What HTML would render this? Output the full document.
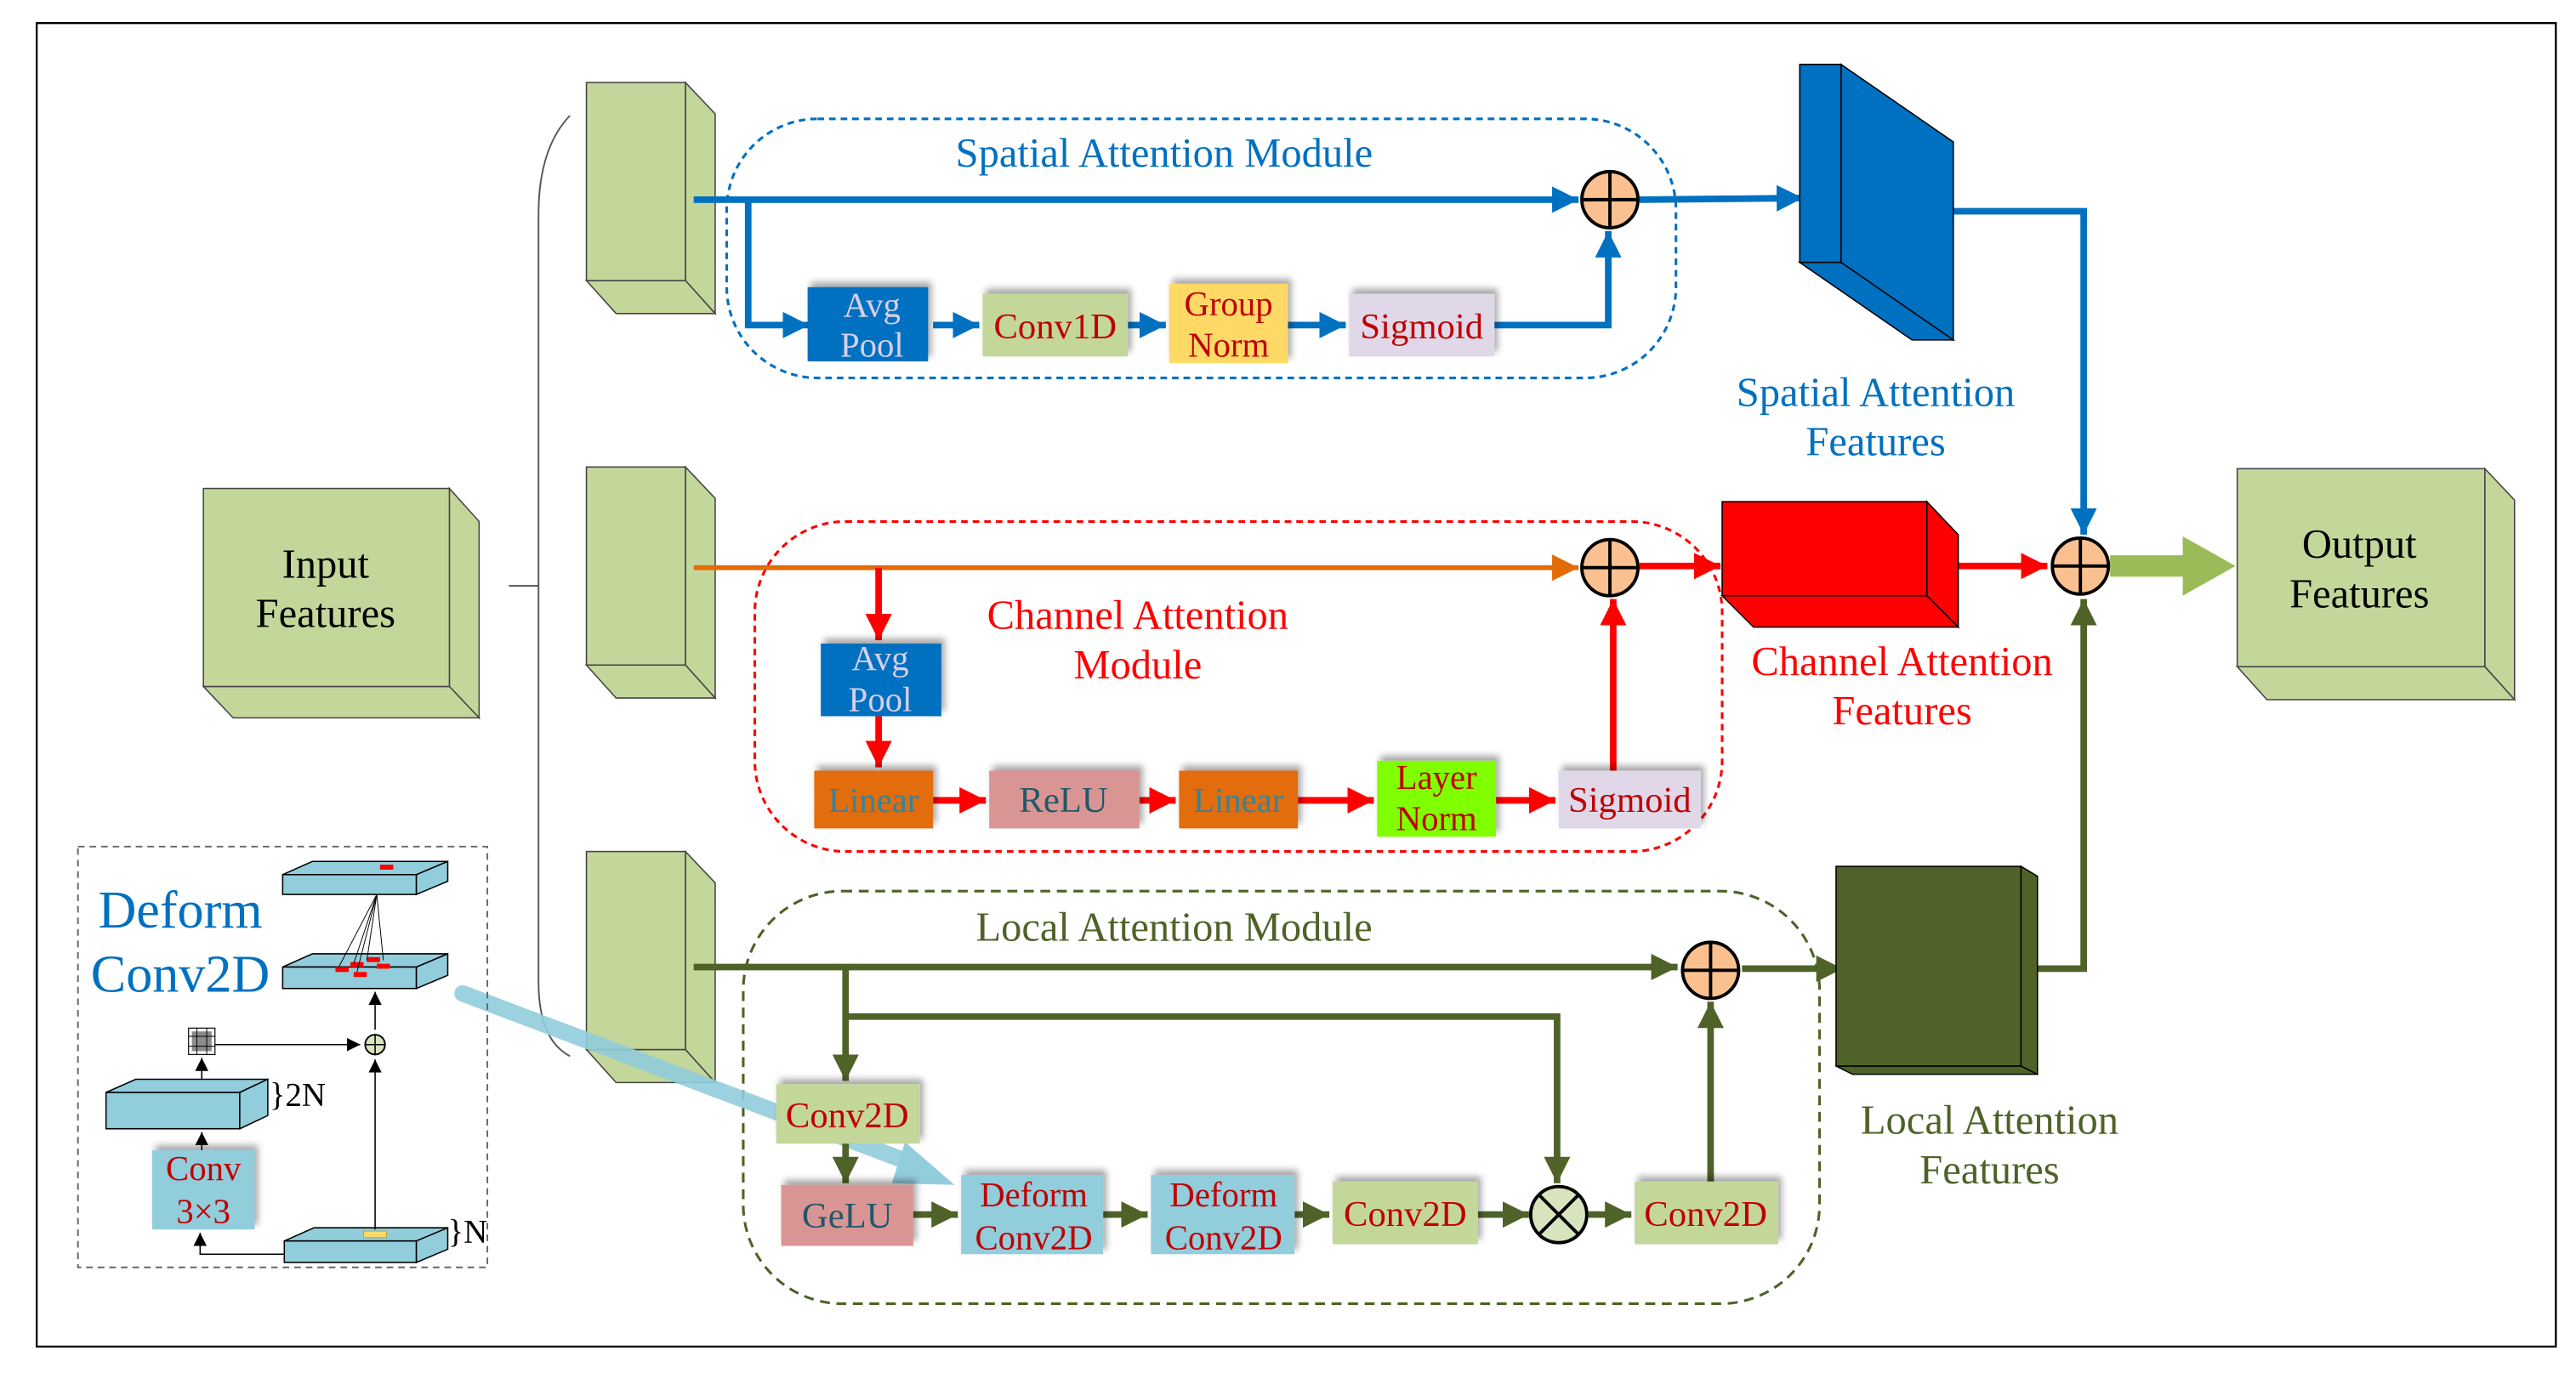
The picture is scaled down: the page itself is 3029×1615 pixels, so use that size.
<!DOCTYPE html>
<html><head><meta charset="utf-8"><style>
html,body{margin:0;padding:0;background:#fff;}
svg{display:block;}
text{font-family:"Liberation Serif",serif;}
</style></head><body>
<svg width="3029" height="1615" viewBox="0 0 1560 832" xmlns="http://www.w3.org/2000/svg">
<defs>
<marker id="ab" markerUnits="userSpaceOnUse" markerWidth="20" markerHeight="20" refX="16" refY="8" orient="auto"><path d="M0,0 L16,8 L0,16 Z" fill="#0070c0"/></marker>
<marker id="ar" markerUnits="userSpaceOnUse" markerWidth="20" markerHeight="20" refX="16" refY="8" orient="auto"><path d="M0,0 L16,8 L0,16 Z" fill="#ff0000"/></marker>
<marker id="ao" markerUnits="userSpaceOnUse" markerWidth="20" markerHeight="20" refX="16" refY="8" orient="auto"><path d="M0,0 L16,8 L0,16 Z" fill="#e36c09"/></marker>
<marker id="ag" markerUnits="userSpaceOnUse" markerWidth="20" markerHeight="20" refX="16" refY="8" orient="auto"><path d="M0,0 L16,8 L0,16 Z" fill="#4f6228"/></marker>
<marker id="ak" markerUnits="userSpaceOnUse" markerWidth="10" markerHeight="10" refX="8" refY="4" orient="auto"><path d="M0,0 L8,4 L0,8 Z" fill="#000"/></marker>
<filter id="sh" x="-20%" y="-20%" width="140%" height="140%"><feDropShadow dx="2" dy="-3" stdDeviation="2" flood-color="#000" flood-opacity="0.35"/></filter>
</defs>

<rect x="22" y="14" width="1526" height="802" fill="none" stroke="#000" stroke-width="1.2"/>

<!-- input features -->
<g stroke="#444" stroke-width="0.8" fill="#c4d79b">
<polygon points="272,296 290,316 290,435 272,416"/>
<polygon points="123,416 272,416 290,435 141,435"/>
<rect x="123" y="296" width="149" height="120"/>
</g>
<text x="197" y="350" font-size="25" text-anchor="middle">Input</text>
<text x="197" y="380" font-size="25" text-anchor="middle">Features</text>

<!-- brace -->
<path d="M345,70 Q326,90 326,130 L326,595 Q326,630 345,640" fill="none" stroke="#555" stroke-width="1"/>
<line x1="308" y1="355" x2="326" y2="355" stroke="#555" stroke-width="1"/>

<!-- green thin boxes -->
<g stroke="#444" stroke-width="0.8" fill="#c4d79b">
<polygon points="415,50 433,69 433,190 415,170"/><polygon points="355,170 415,170 433,190 373,190"/><rect x="355" y="50" width="60" height="120"/>
<polygon points="415,283 433,302 433,423 415,403"/><polygon points="355,403 415,403 433,423 373,423"/><rect x="355" y="283" width="60" height="120"/>
<polygon points="415,516 433,535 433,656 415,636"/><polygon points="355,636 415,636 433,656 373,656"/><rect x="355" y="516" width="60" height="120"/>
</g>

<!-- Spatial module -->
<rect x="440" y="72" width="575" height="157" rx="55" fill="none" stroke="#0070c0" stroke-width="1.6" stroke-dasharray="4,3"/>
<text x="705" y="101" font-size="25" fill="#0070c0" text-anchor="middle">Spatial Attention Module</text>
<g stroke="#0070c0" stroke-width="4" fill="none">
<line x1="420" y1="121" x2="956" y2="121" marker-end="url(#ab)"/>
<polyline points="453,121 453,197 490,197" marker-end="url(#ab)"/>
<line x1="565" y1="197" x2="593" y2="197" marker-end="url(#ab)"/>
<line x1="683" y1="197" x2="706" y2="197" marker-end="url(#ab)"/>
<line x1="780" y1="197" x2="815" y2="197" marker-end="url(#ab)"/>
<polyline points="905,197 974,197 974,140" marker-end="url(#ab)"/>
<line x1="993" y1="121" x2="1092" y2="120" marker-end="url(#ab)"/>
<polyline points="1183,128 1262,128 1262,324" marker-end="url(#ab)"/>
</g>
<g filter="url(#sh)">
<rect x="489" y="174" width="73" height="45" fill="#0070c0"/>
<rect x="595" y="178" width="88" height="38" fill="#c4d79b"/>
<rect x="708" y="172" width="72" height="48" fill="#ffd966"/>
<rect x="817" y="178" width="88" height="38" fill="#e0d8e8"/>
</g>
<text x="528" y="192" font-size="21" fill="#d8d0e8" text-anchor="middle">Avg</text>
<text x="528" y="216" font-size="21" fill="#d8d0e8" text-anchor="middle">Pool</text>
<text x="639" y="205" font-size="22" fill="#c00000" text-anchor="middle">Conv1D</text>
<text x="744" y="191" font-size="21" fill="#c00000" text-anchor="middle">Group</text>
<text x="744" y="216" font-size="21" fill="#c00000" text-anchor="middle">Norm</text>
<text x="861" y="205" font-size="22" fill="#c00000" text-anchor="middle">Sigmoid</text>
<circle cx="975" cy="121" r="17" fill="#fac090" stroke="#000" stroke-width="2"/>
<path d="M958,121 H992 M975,104 V138" stroke="#000" stroke-width="2"/>

<!-- blue block -->
<g stroke="#000" stroke-width="0.8" fill="#0070c0">
<polygon points="1115,39 1183,86 1183,206 1115,159"/>
<polygon points="1090,159 1115,159 1183,206 1158,206"/>
<rect x="1090" y="39" width="25" height="120"/>
</g>
<text x="1136" y="246" font-size="25" fill="#0070c0" text-anchor="middle">Spatial Attention</text>
<text x="1136" y="276" font-size="25" fill="#0070c0" text-anchor="middle">Features</text>

<!-- Channel module -->
<rect x="457" y="316" width="586" height="200" rx="55" fill="none" stroke="#ff0000" stroke-width="1.6" stroke-dasharray="4,3"/>
<text x="689" y="381" font-size="25" fill="#ff0000" text-anchor="middle">Channel Attention</text>
<text x="689" y="411" font-size="25" fill="#ff0000" text-anchor="middle">Module</text>
<line x1="420" y1="344" x2="956" y2="344" stroke="#e36c09" stroke-width="3" marker-end="url(#ao)"/>
<g stroke="#ff0000" stroke-width="4" fill="none">
<line x1="532" y1="344" x2="532" y2="388" marker-end="url(#ar)"/>
<line x1="532" y1="434" x2="532" y2="465" marker-end="url(#ar)"/>
<line x1="565" y1="485" x2="597" y2="485" marker-end="url(#ar)"/>
<line x1="690" y1="485" x2="712" y2="485" marker-end="url(#ar)"/>
<line x1="786" y1="485" x2="832" y2="485" marker-end="url(#ar)"/>
<line x1="906" y1="485" x2="942" y2="485" marker-end="url(#ar)"/>
<line x1="977" y1="467" x2="977" y2="363" marker-end="url(#ar)"/>
<line x1="993" y1="343" x2="1042" y2="343" marker-end="url(#ar)"/>
<line x1="1186" y1="343" x2="1240" y2="343" marker-end="url(#ar)"/>
</g>
<g filter="url(#sh)">
<rect x="497" y="390" width="73" height="44" fill="#0070c0"/>
<rect x="493" y="467" width="72" height="35" fill="#e36c09"/>
<rect x="599" y="467" width="91" height="35" fill="#d99594"/>
<rect x="714" y="467" width="72" height="35" fill="#e36c09"/>
<rect x="834" y="461" width="72" height="46" fill="#7fff00"/>
<rect x="944" y="467" width="86" height="35" fill="#e0d8e8"/>
</g>
<text x="533" y="406" font-size="21" fill="#d8d0e8" text-anchor="middle">Avg</text>
<text x="533" y="431" font-size="21" fill="#d8d0e8" text-anchor="middle">Pool</text>
<text x="529" y="492" font-size="21" fill="#31859c" text-anchor="middle">Linear</text>
<text x="644" y="492" font-size="22" fill="#215868" text-anchor="middle">ReLU</text>
<text x="750" y="492" font-size="21" fill="#31859c" text-anchor="middle">Linear</text>
<text x="870" y="478" font-size="21" fill="#c00000" text-anchor="middle">Layer</text>
<text x="870" y="503" font-size="21" fill="#c00000" text-anchor="middle">Norm</text>
<text x="987" y="492" font-size="22" fill="#c00000" text-anchor="middle">Sigmoid</text>
<circle cx="975" cy="344" r="17" fill="#fac090" stroke="#000" stroke-width="2"/>
<path d="M958,344 H992 M975,327 V361" stroke="#000" stroke-width="2"/>

<!-- red block -->
<g stroke="#000" stroke-width="0.8" fill="#ff0000">
<polygon points="1167,304 1186,324 1186,380 1167,361"/>
<polygon points="1043,361 1167,361 1186,380 1062,380"/>
<rect x="1043" y="304" width="124" height="57"/>
</g>
<text x="1152" y="409" font-size="25" fill="#ff0000" text-anchor="middle">Channel Attention</text>
<text x="1152" y="439" font-size="25" fill="#ff0000" text-anchor="middle">Features</text>

<!-- final sum -->
<line x1="1278" y1="343" x2="1325" y2="343" stroke="#9bbb59" stroke-width="13"/>
<polygon points="1322,325 1354,343 1322,361" fill="#9bbb59"/>
<polyline points="1234,587 1262,587 1262,363" fill="none" stroke="#4f6228" stroke-width="4" marker-end="url(#ag)"/>
<circle cx="1260" cy="343" r="17" fill="#fac090" stroke="#000" stroke-width="2"/>
<path d="M1243,343 H1277 M1260,326 V360" stroke="#000" stroke-width="2"/>

<!-- output -->
<g stroke="#444" stroke-width="0.8" fill="#c4d79b">
<polygon points="1505,284 1523,303 1523,424 1505,404"/>
<polygon points="1355,404 1505,404 1523,424 1373,424"/>
<rect x="1355" y="284" width="150" height="120"/>
</g>
<text x="1429" y="338" font-size="25" text-anchor="middle">Output</text>
<text x="1429" y="368" font-size="25" text-anchor="middle">Features</text>

<!-- Local module -->
<rect x="450" y="540" width="652" height="250" rx="60" fill="none" stroke="#4f6228" stroke-width="1.6" stroke-dasharray="6,4"/>
<text x="711" y="570" font-size="25" fill="#4f6228" text-anchor="middle">Local Attention Module</text>

<!-- light blue arrow -->
<line x1="280" y1="602" x2="555" y2="706" stroke="#92cddc" stroke-width="10" stroke-linecap="round" opacity="0.9"/>
<polygon points="548,692 578,718 540,717" fill="#92cddc"/>

<g stroke="#4f6228" stroke-width="4" fill="none">
<line x1="420" y1="586" x2="1016" y2="586" marker-end="url(#ag)"/>
<line x1="512" y1="586" x2="512" y2="655" marker-end="url(#ag)"/>
<polyline points="512,616 943,616 943,717" marker-end="url(#ag)"/>
<line x1="512" y1="693" x2="512" y2="717" marker-end="url(#ag)"/>
<line x1="553" y1="736" x2="580" y2="736" marker-end="url(#ag)"/>
<line x1="668" y1="736" x2="695" y2="736" marker-end="url(#ag)"/>
<line x1="784" y1="736" x2="805" y2="736" marker-end="url(#ag)"/>
<line x1="895" y1="736" x2="926" y2="736" marker-end="url(#ag)"/>
<line x1="962" y1="736" x2="988" y2="736" marker-end="url(#ag)"/>
<line x1="1036" y1="716" x2="1036" y2="607" marker-end="url(#ag)"/>
<line x1="1055" y1="587" x2="1116" y2="587" marker-end="url(#ag)"/>
</g>
<g filter="url(#sh)">
<rect x="470" y="657" width="87" height="36" fill="#c4d79b"/>
<rect x="473" y="718" width="80" height="37" fill="#d99594"/>
<rect x="582" y="712" width="86" height="48" fill="#92cddc"/>
<rect x="697" y="712" width="87" height="48" fill="#92cddc"/>
<rect x="807" y="716" width="88" height="38" fill="#c4d79b"/>
<rect x="990" y="716" width="87" height="38" fill="#c4d79b"/>
</g>
<text x="513" y="683" font-size="22" fill="#c00000" text-anchor="middle">Conv2D</text>
<text x="513" y="744" font-size="22" fill="#215868" text-anchor="middle">GeLU</text>
<text x="626" y="731" font-size="21" fill="#c00000" text-anchor="middle">Deform</text>
<text x="626" y="757" font-size="21" fill="#c00000" text-anchor="middle">Conv2D</text>
<text x="741" y="731" font-size="21" fill="#c00000" text-anchor="middle">Deform</text>
<text x="741" y="757" font-size="21" fill="#c00000" text-anchor="middle">Conv2D</text>
<text x="851" y="743" font-size="22" fill="#c00000" text-anchor="middle">Conv2D</text>
<text x="1033" y="743" font-size="22" fill="#c00000" text-anchor="middle">Conv2D</text>
<circle cx="944" cy="736" r="17" fill="#d7e4bd" stroke="#000" stroke-width="2"/>
<path d="M932,724 L956,748 M956,724 L932,748" stroke="#000" stroke-width="2"/>
<circle cx="1036" cy="588" r="17" fill="#fac090" stroke="#000" stroke-width="2"/>
<path d="M1019,588 H1053 M1036,571 V605" stroke="#000" stroke-width="2"/>

<!-- dark green block -->
<g stroke="#000" stroke-width="0.8" fill="#4f6228">
<polygon points="1224,525 1234,531 1234,651 1224,646"/>
<polygon points="1112,646 1224,646 1234,651 1122,651"/>
<rect x="1112" y="525" width="112" height="121"/>
</g>
<text x="1205" y="687" font-size="25" fill="#4f6228" text-anchor="middle">Local Attention</text>
<text x="1205" y="717" font-size="25" fill="#4f6228" text-anchor="middle">Features</text>

<!-- inset -->
<rect x="47" y="513" width="248" height="255" fill="none" stroke="#666" stroke-width="1" stroke-dasharray="4,3"/>
<text x="109" y="562" font-size="32" fill="#0070c0" text-anchor="middle">Deform</text>
<text x="109" y="601" font-size="32" fill="#0070c0" text-anchor="middle">Conv2D</text>
<g stroke="#000" stroke-width="0.8" fill="#92cddc">
<polygon points="171,530 189,522 271,522 252,530"/><rect x="171" y="530" width="81" height="12"/><polygon points="252,530 271,522 271,534 252,542"/>
<polygon points="171,586 189,578 271,578 252,586"/><rect x="171" y="586" width="81" height="13"/><polygon points="252,586 271,578 271,591 252,599"/>
<polygon points="64,662 82,654 162,654 145,662"/><rect x="64" y="662" width="81" height="22"/><polygon points="145,662 162,654 162,676 145,684"/>
<polygon points="172,752 190,744 271,744 252,752"/><rect x="172" y="752" width="80" height="13"/><polygon points="252,752 271,744 271,757 252,765"/>
</g>
<rect x="230" y="524" width="8" height="3" fill="#ff0000"/>
<g fill="#ff0000"><rect x="203" y="586" width="8" height="3"/><rect x="212" y="583" width="8" height="3"/><rect x="222" y="580" width="8" height="3"/><rect x="228" y="584" width="8" height="3"/><rect x="214" y="589" width="8" height="3"/></g>
<g stroke="#000" stroke-width="0.5"><line x1="228" y1="542" x2="205" y2="586"/><line x1="228" y1="542" x2="214" y2="584"/><line x1="228" y1="542" x2="222" y2="582"/><line x1="228" y1="542" x2="232" y2="582"/><line x1="228" y1="542" x2="216" y2="589"/></g>
<rect x="220" y="746" width="14" height="4" fill="#ffd966" stroke="#b09030" stroke-width="0.4"/>
<rect x="92" y="697" width="62" height="48" fill="#92cddc" filter="url(#sh)"/>
<text x="123" y="715" font-size="21" fill="#c00000" text-anchor="middle">Conv</text>
<text x="123" y="741" font-size="21" fill="#c00000" text-anchor="middle">3×3</text>
<rect x="114" y="623" width="16" height="16" fill="#fff" stroke="#000" stroke-width="0.6"/>
<path d="M114,628 H130 M114,634 H130 M119,623 V639 M125,623 V639" stroke="#000" stroke-width="0.5"/>
<rect x="116" y="625" width="12" height="12" fill="#000" opacity="0.45"/>
<g stroke="#000" stroke-width="0.8" fill="none">
<line x1="130" y1="633" x2="218" y2="633" marker-end="url(#ak)"/>
<line x1="227" y1="745" x2="227" y2="642" marker-end="url(#ak)"/>
<line x1="227" y1="624" x2="227" y2="601" marker-end="url(#ak)"/>
<line x1="122" y1="654" x2="122" y2="641" marker-end="url(#ak)"/>
<line x1="122" y1="697" x2="122" y2="686" marker-end="url(#ak)"/>
<polyline points="172,760 121,760 121,747" marker-end="url(#ak)"/>
</g>
<circle cx="227" cy="633" r="6" fill="#d7e4bd" stroke="#000" stroke-width="1"/>
<path d="M221,633 H233 M227,627 V639" stroke="#000" stroke-width="0.8"/>
<text x="163" y="670" font-size="20">}2N</text>
<text x="271" y="753" font-size="20">}N</text>
</svg>
</body></html>
